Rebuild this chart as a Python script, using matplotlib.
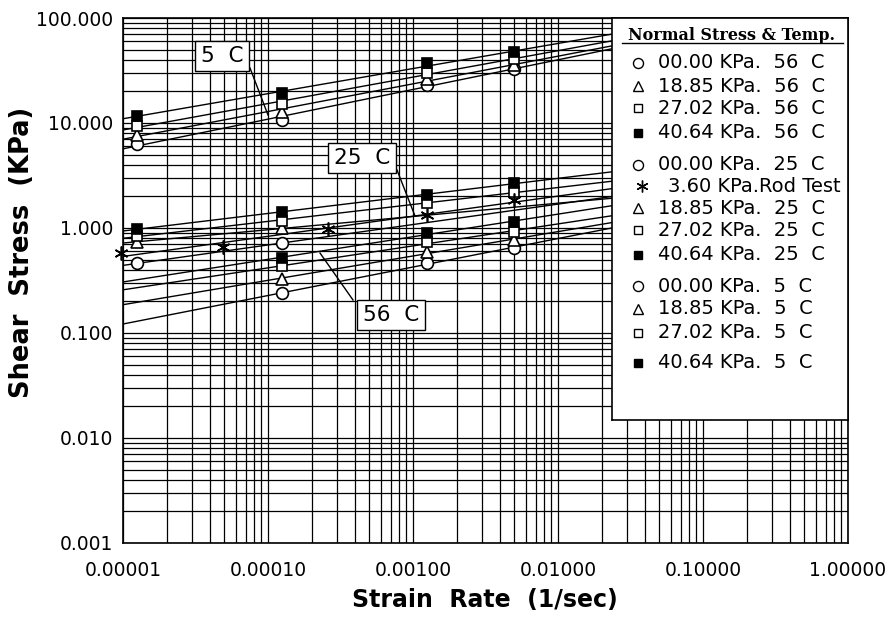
import numpy as np
import matplotlib
matplotlib.use("Agg")
import matplotlib.pyplot as plt
from matplotlib.ticker import LogLocator, NullFormatter

# strain rate columns where the tests were read (1/sec)
x_cols = np.array([1.25e-5, 1.25e-4, 1.25e-3, 5.0e-3])

# 5 C series (KPa)
circ_5 = np.array([6.3, 10.7, 23.0, 33.0])
tri_5 = np.array([7.7, 12.7, 26.0, 36.0])
sq_5 = np.array([9.4, 15.1, 30.0, 41.0])
fsq_5 = np.array([11.7, 19.3, 37.0, 47.0])

# 25 C series
circ_25 = np.array([0.46, 0.72, np.nan, np.nan])
tri_25 = np.array([0.74, 0.99, np.nan, np.nan])
sq_25 = np.array([0.84, 1.17, 1.73, 2.20])
fsq_25 = np.array([0.98, 1.42, 2.06, 2.69])

# rod test
x_rod = np.array([0.97e-5, 4.9e-5, 2.6e-4, 1.25e-3, 5.0e-3])
y_rod = np.array([0.58, 0.66, 0.98, 1.33, 1.85])

# 56 C series
circ_56 = np.array([np.nan, 0.24, 0.46, 0.65])
tri_56 = np.array([np.nan, 0.33, 0.59, 0.77])
sq_56 = np.array([np.nan, 0.43, 0.74, 0.92])
fsq_56 = np.array([np.nan, 0.52, 0.90, 1.14])

x_ticks = [1e-5, 1e-4, 1e-3, 1e-2, 1e-1, 1.0]
x_tick_labels = ["0.00001", "0.00010", "0.00100", "0.01000", "0.10000", "1.00000"]
y_ticks = [1e-3, 1e-2, 1e-1, 1.0, 10.0, 100.0]
y_tick_labels = ["0.001", "0.010", "0.100", "1.000", "10.000", "100.000"]

legend_labels = ["00.00 KPa.  56  C", "18.85 KPa.  56  C", "27.02 KPa.  56  C",
                 "40.64 KPa.  56  C", "00.00 KPa.  25  C", "3.60 KPa.Rod Test",
                 "18.85 KPa.  25  C", "27.02 KPa.  25  C", "40.64 KPa.  25  C",
                 "00.00 KPa.  5  C", "18.85 KPa.  5  C", "27.02 KPa.  5  C",
                 "40.64 KPa.  5  C"]
legend_markers = ["o", "^", "s", "S", "o", "*", "^", "s", "S", "o", "^", "s", "S"]


def fit_line(xs, ys):
    # power law fit, straight line in log-log
    m = ~np.isnan(ys)
    p = np.polyfit(np.log10(xs[m]), np.log10(ys[m]), 1)
    xx = np.array([1e-5, 1.0])
    return xx, 10 ** np.polyval(p, np.log10(xx))


def marker_style(kind, size_scale=1.0):
    if kind == "o":
        return dict(marker="o", ms=8.5 * size_scale, mfc="white")
    if kind == "^":
        return dict(marker="^", ms=8.5 * size_scale, mfc="white")
    if kind == "s":
        return dict(marker="s", ms=7.0 * size_scale, mfc="white")
    if kind == "S":
        return dict(marker="s", ms=7.5 * size_scale, mfc="black")
    return dict(marker=(6, 2, 0), ms=10 * size_scale, mfc="black")


fig = plt.figure(figsize=(8.9, 6.23), dpi=100)
ax = fig.add_axes([123 / 890, 80 / 623, 725 / 890, 525 / 623])
ax.set_xscale("log")
ax.set_yscale("log")
ax.set_xlim(1e-5, 1.0)
ax.set_ylim(1e-3, 100.0)

ax.set_xticks(x_ticks)
ax.set_xticklabels(x_tick_labels)
ax.set_yticks(y_ticks)
ax.set_yticklabels(y_tick_labels)
for a in (ax.xaxis, ax.yaxis):
    a.set_minor_locator(LogLocator(base=10, subs=np.arange(2, 10)))
    a.set_minor_formatter(NullFormatter())
ax.tick_params(which="both", length=0, labelsize=13.5)
ax.tick_params(axis="x", pad=13)
ax.tick_params(axis="y", pad=7)
ax.grid(which="both", color="black", lw=0.9)
ax.set_axisbelow(True)
for s in ax.spines.values():
    s.set_linewidth(1.2)

series = [
    (x_cols, circ_5, "o"), (x_cols, tri_5, "^"), (x_cols, sq_5, "s"), (x_cols, fsq_5, "S"),
    (x_cols, circ_25, "o"), (x_cols, tri_25, "^"), (x_cols, sq_25, "s"), (x_cols, fsq_25, "S"),
    (x_rod, y_rod, "*"),
    (x_cols, circ_56, "o"), (x_cols, tri_56, "^"), (x_cols, sq_56, "s"), (x_cols, fsq_56, "S"),
]

for xs, ys, kind in series:
    xx, yy = fit_line(xs, ys)
    ax.plot(xx, yy, color="black", lw=1.0, zorder=3)
for xs, ys, kind in series:
    ax.plot(xs, ys, ls="none", mec="black", mew=1.2, zorder=4, clip_on=False,
            **marker_style(kind))

# temperature callouts
def callout(text, tx, ty, lx0, ly0, lx1, ly1):
    # pixel positions -> axes fraction
    f = lambda px, py: ((px - 123) / 725, (543 - py) / 525)
    x0, y0 = f(lx0, ly0)
    x1, y1 = f(lx1, ly1)
    ax.plot([x0, x1], [y0, y1], color="black", lw=1.0, transform=ax.transAxes, zorder=5)
    cx, cy = f(tx, ty)
    ax.text(cx, cy, text, transform=ax.transAxes, fontsize=15.5, ha="center", va="center",
            zorder=6, bbox=dict(boxstyle="square,pad=0.25", fc="white", ec="black", lw=1.0))

callout("5  C", 222, 56, 250, 68, 268, 115)
callout("25  C", 362, 158, 397, 170, 415, 216)
callout("56  C", 391, 315, 353, 300, 320, 253)

# legend box
lax = fig.add_axes([612 / 890, 1 - 420 / 623, 236 / 890, 402 / 623], zorder=10)
lax.set_xlim(0, 236)
lax.set_ylim(402, 0)
lax.set_xticks([])
lax.set_yticks([])
for s in lax.spines.values():
    s.set_linewidth(1.2)
lax.text(120, 17, "Normal Stress & Temp.", family="DejaVu Serif", fontweight="bold",
         fontsize=11.5, ha="center", va="center")
lax.plot([10, 231], [25, 25], color="black", lw=1.0)
legend_y = [45, 68, 90, 115, 147, 168, 190, 212, 237, 268, 291, 315, 345]
for lab, kind, yy in zip(legend_labels, legend_markers, legend_y):
    mx = 30 if kind == "*" else 26
    tx = 56 if kind == "*" else 46
    lax.plot([mx], [yy], ls="none", mec="black", mew=1.0, **marker_style(kind, 0.85))
    lax.text(tx, yy, lab, fontsize=14, ha="left", va="center")

fig.text(22 / 890, 1 - 252 / 623, "Shear  Stress  (KPa)", rotation=90, fontsize=18.5,
         fontweight="bold", ha="center", va="center")
fig.text(485 / 890, 1 - 600 / 623, "Strain  Rate  (1/sec)", fontsize=17,
         fontweight="bold", ha="center", va="center")

fig.savefig("out.png", dpi=100, facecolor="white")
